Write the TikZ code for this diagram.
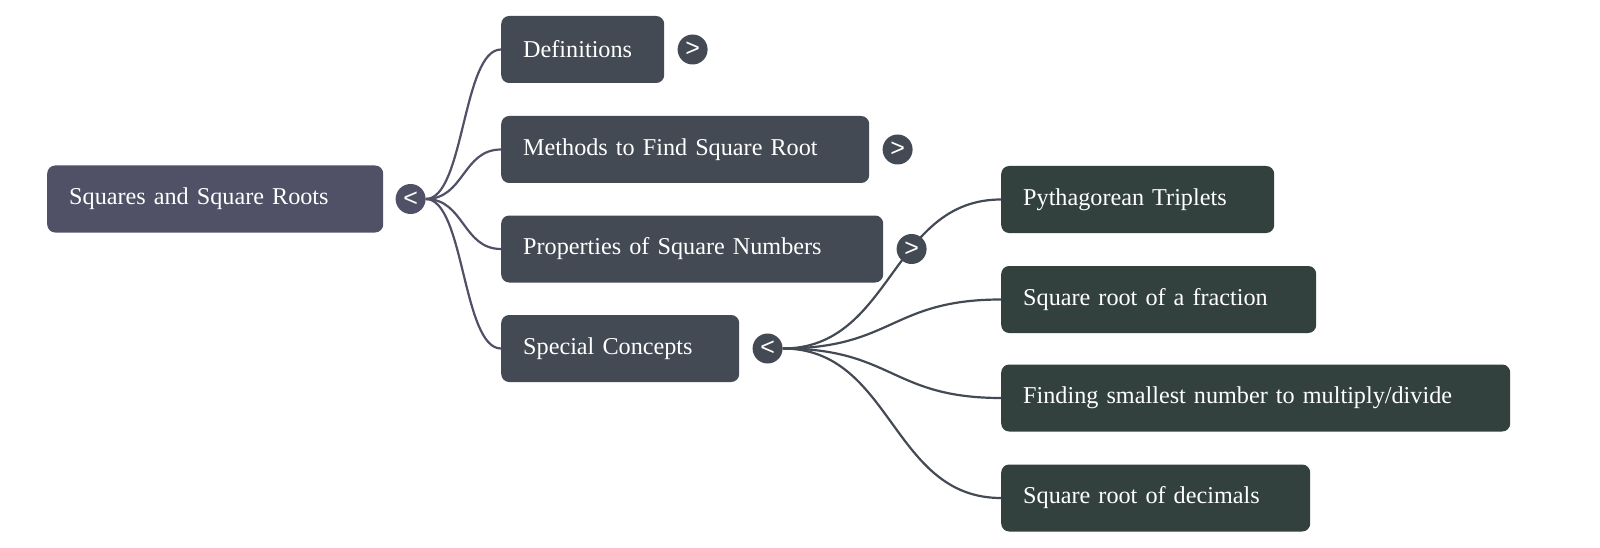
\documentclass[tikz,border=0pt]{standalone}
\usepackage{fontspec}
\setmainfont{Liberation Serif}
\setsansfont{Liberation Sans}
\usepackage{tikz}
\usetikzlibrary{positioning}

\definecolor{rootcol}{HTML}{505066}
\definecolor{branchcol}{HTML}{434A54}
\definecolor{leafcol}{HTML}{32413E}

\pgfdeclarelayer{background}
\pgfsetlayers{background,main}

\tikzset{
  topic/.style={rectangle, rounded corners=8pt, minimum height=67pt, inner xsep=22pt, inner ysep=0pt,
    align=left, text=white, anchor=west, font=\fontsize{24.2}{29}\selectfont},
  roottopic/.style={topic, fill=rootcol},
  branch/.style={topic, fill=branchcol},
  leaf/.style={topic, fill=leafcol},
  toggle/.style={circle, minimum size=30pt, inner sep=0pt, text=white, font=\sffamily\fontsize{25}{25}\selectfont},
  rootlink/.style={draw=rootcol, line width=2.2pt},
  branchlink/.style={draw=branchcol, line width=2.2pt}
}

\begin{document}
\begin{tikzpicture}[x=1pt, y=-1pt]

            \useasboundingbox (0,0) rectangle (1600,548);

            % root
            \node[roottopic, text width=292pt] (sq) at (47,199) {Squares and Square Roots};
            \node[toggle, fill=rootcol, right=12pt of sq] (sqt) {<};

            % first level
            \node[branch, text width=119pt] (defs) at (501,49.5) {Definitions};
            \node[toggle, fill=branchcol, right=13pt of defs] (defst) {>};
            \node[branch, text width=324pt] (meth) at (501,149.5) {Methods to Find Square Root};
            \node[toggle, fill=branchcol, right=13pt of meth] (metht) {>};
            \node[branch, text width=338pt] (prop) at (501,249) {Properties of Square Numbers};
            \node[toggle, fill=branchcol, right=13pt of prop] (propt) {>};
            \node[branch, text width=194pt] (spec) at (501,348.5) {Special Concepts};
            \node[toggle, fill=branchcol, right=13pt of spec] (spect) {<};

            % second level
            \node[leaf, text width=229pt] (pyth) at (1001,199.5) {Pythagorean Triplets};
            \node[leaf, text width=271pt] (frac) at (1001,299.5) {Square root of a fraction};
            \node[leaf, text width=465pt] (small) at (1001,398) {Finding smallest number to multiply/divide};
            \node[leaf, text width=265pt] (deci) at (1001,498) {Square root of decimals};

            \begin{pgfonlayer}{background}
            \foreach \n in {defs,meth,prop,spec}
              \draw[rootlink] (sqt.east) .. controls +(38.5,0) and +(-38.5,0) .. (\n.west);
            \foreach \n in {pyth,frac,small,deci}
              \draw[branchlink] (spect.east) .. controls +(110,0) and +(-110,0) .. (\n.west);
            \end{pgfonlayer}

        \end{tikzpicture}
\end{document}
